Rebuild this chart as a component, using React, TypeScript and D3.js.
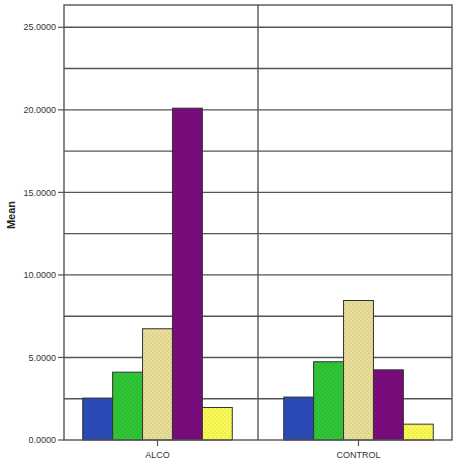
import React from "react";
import * as d3 from "d3";

const categories = ["ALCO", "CONTROL"];
const seriesNames = ["s1", "s2", "s3", "s4", "s5"];
const seriesColors = ["#2b4cb8", "#2fc637", "#e9df98", "#7b0c7d", "#fbfb58"];
const alcoValues = [2.54, 4.11, 6.74, 20.1, 1.97];
const controlValues = [2.6, 4.74, 8.45, 4.25, 0.96];
const yTicks = [0, 5, 10, 15, 20, 25];
const yGrid = [2.5, 5, 7.5, 10, 12.5, 15, 17.5, 20, 22.5, 25];

const W = 459;
const H = 461;
const frame = { left: 64, right: 452, top: 5, bottom: 440 };

export default function App() {
  const values = [alcoValues, controlValues];
  const x = d3.scaleBand<string>().domain(categories).range([57, 459]);
  const inner = d3
    .scaleBand<string>()
    .domain(seriesNames)
    .range([0, x.bandwidth()])
    .paddingOuter(0.86)
    .paddingInner(0);
  const y = d3.scaleLinear().domain([0, 26.35]).range([frame.bottom, frame.top]);

  return (
    <svg
      width={W}
      height={H}
      style={{ position: "absolute", left: 0, top: 0, background: "#fff" }}
      fontFamily="Arial, 'Liberation Sans', sans-serif"
    >
      <defs>
        {seriesColors.map((c, i) => (
          <pattern
            key={i}
            id={`pat${i}`}
            width={4}
            height={4}
            patternUnits="userSpaceOnUse"
          >
            <rect width={4} height={4} fill={c} />
            <circle cx={1} cy={1} r={0.6} fill="#000" opacity={0.25} />
            <circle cx={3} cy={3} r={0.6} fill="#000" opacity={0.18} />
          </pattern>
        ))}
      </defs>
      {yGrid.map((v) => (
        <line
          key={v}
          x1={frame.left}
          x2={frame.right}
          y1={y(v)}
          y2={y(v)}
          stroke="#555"
          strokeWidth={1.4}
        />
      ))}
      <line
        x1={x(categories[0])! + x.bandwidth()}
        x2={x(categories[0])! + x.bandwidth()}
        y1={frame.top}
        y2={frame.bottom}
        stroke="#555"
        strokeWidth={1.4}
      />
      {categories.map((cat, ci) =>
        values[ci].map((v, si) => (
          <rect
            key={`${cat}-${si}`}
            x={x(cat)! + inner(seriesNames[si])!}
            y={y(v)}
            width={inner.bandwidth()}
            height={y(0) - y(v)}
            fill={`url(#pat${si})`}
            stroke="#333"
            strokeWidth={1}
          />
        ))
      )}
      <rect
        x={frame.left}
        y={frame.top}
        width={frame.right - frame.left}
        height={frame.bottom - frame.top}
        fill="none"
        stroke="#555"
        strokeWidth={1.4}
      />
      {yTicks.map((v) => (
        <g key={v}>
          <line x1={58} x2={frame.left} y1={y(v)} y2={y(v)} stroke="#555" strokeWidth={1.2} />
          <text x={56} y={y(v)} dy="0.35em" textAnchor="end" fontSize={9} fill="#333">
            {d3.format(".4f")(v)}
          </text>
        </g>
      ))}
      {categories.map((cat) => {
        const cx = x(cat)! + x.bandwidth() / 2;
        return (
          <g key={cat}>
            <line x1={cx} x2={cx} y1={frame.bottom} y2={frame.bottom + 6} stroke="#555" strokeWidth={1.2} />
            <text x={cx} y={458} textAnchor="middle" fontSize={9} fill="#333">
              {cat}
            </text>
          </g>
        );
      })}
      <text
        transform={`translate(15, 215) rotate(-90)`}
        textAnchor="middle"
        fontSize={11}
        fontWeight="bold"
        fill="#222"
      >
        Mean
      </text>
    </svg>
  );
}
